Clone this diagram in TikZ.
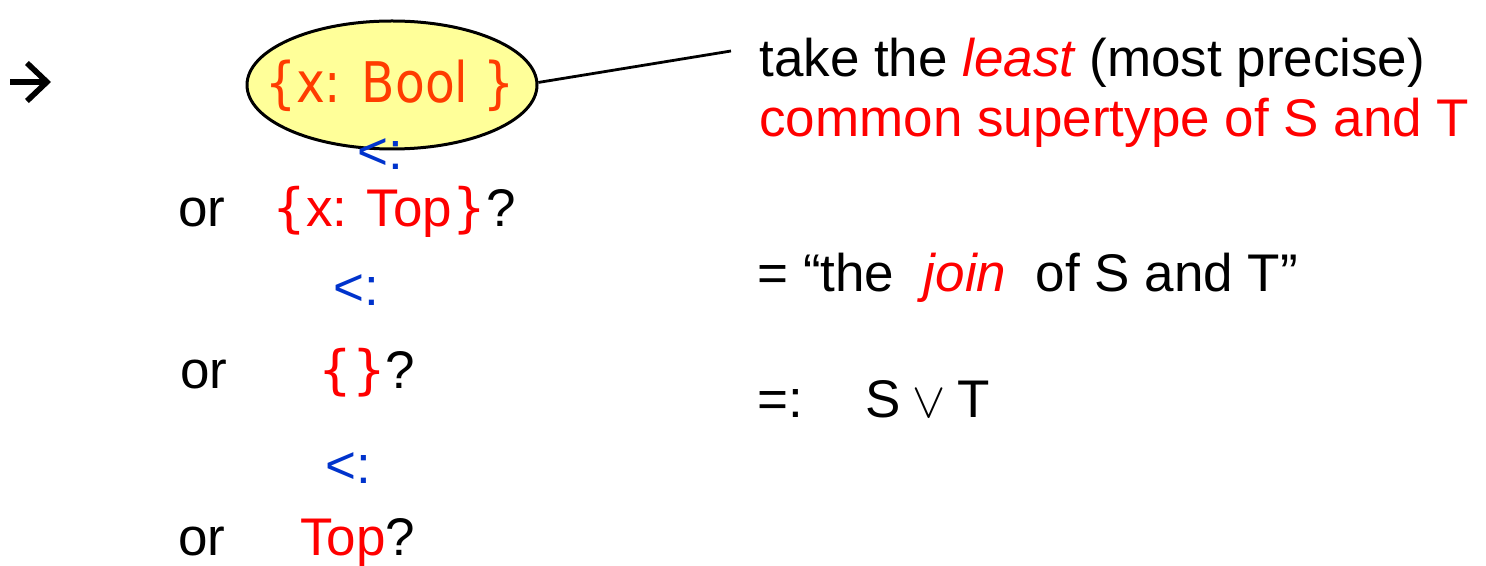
\documentclass[tikz,border=0pt]{standalone}
\usepackage{fontspec}
\setmainfont{Liberation Sans}
\newfontfamily\bracefont{DejaVu Sans}
\newfontfamily\boolfont{DejaVu Sans}[FakeStretch=0.87]
\usepackage{xcolor}
\usepackage{tikz}
\usetikzlibrary{arrows.meta,shapes.geometric}
\definecolor{typered}{HTML}{FF0000}
\definecolor{boolred}{HTML}{FF3C00}
\definecolor{subblue}{HTML}{0033CC}
\definecolor{boolfill}{HTML}{FFFF99}
\newcommand{\slidefont}{\fontsize{26.5}{32}\selectfont}
\newcommand{\lbr}{{\bracefont\{}}
\newcommand{\rbr}{{\bracefont\}}}

\begin{document}
\begin{tikzpicture}[x=0.5pt, y=-0.5pt,
        txt/.style={anchor=base west, inner sep=0pt, font=\slidefont},
        sub/.style={txt, text=subblue}]
        \useasboundingbox (0,0) rectangle (1486,566);

        \coordinate (arrowtail) at (10,82);
        \coordinate (arrowhead) at (51,82);
        \draw[line width=2.8pt, -{Straight Barb[length=10pt, width=19pt]}] (arrowtail) -- (arrowhead);
        \node[ellipse, draw, line width=1.5pt, fill=boolfill,
              minimum width=145pt, minimum height=64pt, inner sep=0pt] (bool) at (392,85) {};
        \node[text=boolred, font=\boolfont\fontsize{28}{32}\selectfont, inner sep=0pt,
              anchor=base] (boolname) at (390,103) {\{x: Bool \}};
        \coordinate (tip) at (731,51);
        \draw[line width=1.4pt] (bool.1) -- (tip);

        % the chain of supertypes
        \node[sub] (sub1) at (357,170) {<:};
        \node[txt] (or1) at (178,227) {or};
        \node[txt, text=typered] (xtop) at (272,227) {\lbr x: Top\rbr{\color{black}?}};
        \node[sub] (sub2) at (333,306) {<:};
        \node[txt] (or2) at (180,388) {or};
        \node[txt, text=typered] (empty) at (318,388) {\lbr\rbr{\color{black}?}};
        \node[sub] (sub3) at (325,483) {<:};
        \node[txt] (or3) at (178,555) {or};
        \node[txt, text=typered] (top) at (300,555) {Top{\color{black}?}};

        % explanation
        \node[txt] (least) at (759,77) {take the \textit{\color{typered}least} (most precise)};
        \node[txt, text=typered] (common) at (759,137) {common supertype of S and T};
        \node[txt] (join) at (757,292) {= “the\ \ \textit{\color{typered}join}\ \ of S and T”};
        \node[txt] (vee) at (757,417) {=:\hspace{31pt}S\hspace{6pt}$\vee$\hspace{6pt}T};
    \end{tikzpicture}
\end{document}
